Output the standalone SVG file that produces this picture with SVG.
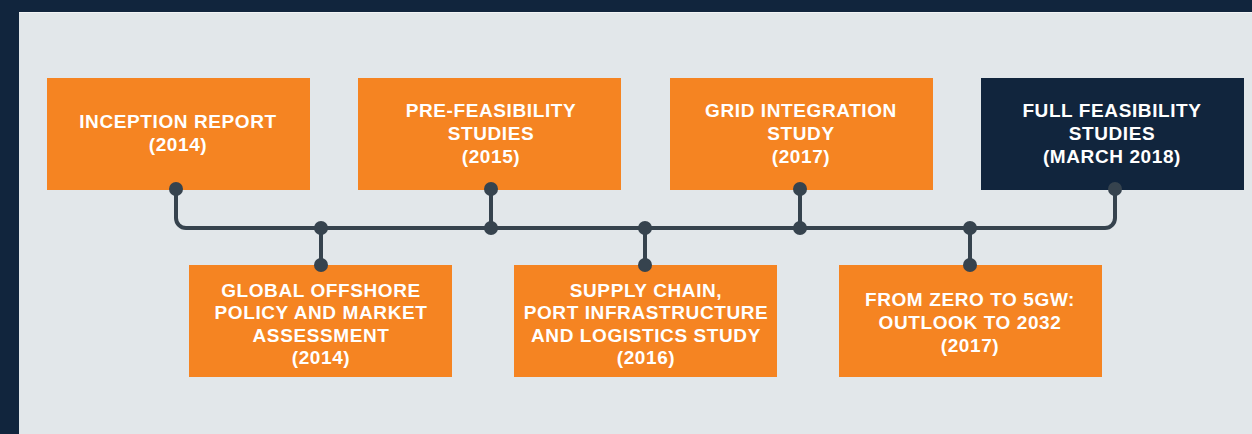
<svg xmlns="http://www.w3.org/2000/svg" width="1252" height="434" viewBox="0 0 1252 434">
<style>
.box{fill:#f58422}
.dark{fill:#11253d}
.t{font-family:"Liberation Sans",Arial,sans-serif;font-weight:bold;font-size:19px;fill:#ffffff;text-anchor:middle;letter-spacing:0.6px}
.ln{fill:none;stroke:#36434e;stroke-width:4;stroke-linecap:round;stroke-linejoin:round}
.dot{fill:#36434e}
</style>
<rect x="0" y="0" width="1252" height="434" fill="#11253d"/>
<rect x="19" y="12" width="1233" height="422" fill="#e2e7ea"/>
<line x1="19" y1="12.5" x2="1252" y2="12.5" stroke="#f2f4f5" stroke-width="1"/>
<g id="connectors">
<path class="ln" d="M176 189 V218 A10 10 0 0 0 186 228 H1105 A10 10 0 0 0 1115 218 V189"/>
<line class="ln" x1="321" y1="228" x2="321" y2="265"/>
<line class="ln" x1="491" y1="189" x2="491" y2="228"/>
<line class="ln" x1="645" y1="228" x2="645" y2="265"/>
<line class="ln" x1="800" y1="189" x2="800" y2="228"/>
<line class="ln" x1="970" y1="228" x2="970" y2="265"/>
</g>
<g id="n1"><rect class="box" x="47" y="78" width="263" height="112"/>
<text class="t" x="178" y="128">INCEPTION REPORT</text><text class="t" x="178" y="151">(2014)</text></g>
<g id="n2"><rect class="box" x="358" y="78" width="263" height="112"/>
<text class="t" x="491" y="117">PRE-FEASIBILITY</text><text class="t" x="491" y="140">STUDIES</text><text class="t" x="491" y="163">(2015)</text></g>
<g id="n3"><rect class="box" x="670" y="78" width="263" height="112"/>
<text class="t" x="801" y="117">GRID INTEGRATION</text><text class="t" x="801" y="140">STUDY</text><text class="t" x="801" y="163">(2017)</text></g>
<g id="n4"><rect class="dark" x="981" y="78" width="263" height="112"/>
<text class="t" x="1112" y="117">FULL FEASIBILITY</text><text class="t" x="1112" y="140">STUDIES</text><text class="t" x="1112" y="163">(MARCH 2018)</text></g>
<g id="n5"><rect class="box" x="189" y="265" width="263" height="112"/>
<text class="t" x="321" y="297">GLOBAL OFFSHORE</text><text class="t" x="321" y="319">POLICY AND MARKET</text><text class="t" x="321" y="342">ASSESSMENT</text><text class="t" x="321" y="364">(2014)</text></g>
<g id="n6"><rect class="box" x="514" y="265" width="263" height="112"/>
<text class="t" x="646" y="297">SUPPLY CHAIN,</text><text class="t" x="646" y="319">PORT INFRASTRUCTURE</text><text class="t" x="646" y="342">AND LOGISTICS STUDY</text><text class="t" x="646" y="364">(2016)</text></g>
<g id="n7"><rect class="box" x="839" y="265" width="263" height="112"/>
<text class="t" x="970" y="306">FROM ZERO TO 5GW:</text><text class="t" x="970" y="329">OUTLOOK TO 2032</text><text class="t" x="970" y="352">(2017)</text></g>
<g id="dots">
<circle class="dot" cx="176" cy="189" r="7"/>
<circle class="dot" cx="321" cy="228" r="7"/>
<circle class="dot" cx="321" cy="265" r="7"/>
<circle class="dot" cx="491" cy="189" r="7"/>
<circle class="dot" cx="491" cy="228" r="7"/>
<circle class="dot" cx="645" cy="228" r="7"/>
<circle class="dot" cx="645" cy="265" r="7"/>
<circle class="dot" cx="800" cy="189" r="7"/>
<circle class="dot" cx="800" cy="228" r="7"/>
<circle class="dot" cx="970" cy="228" r="7"/>
<circle class="dot" cx="970" cy="265" r="7"/>
<circle class="dot" cx="1115" cy="189" r="7"/>
</g>
</svg>
